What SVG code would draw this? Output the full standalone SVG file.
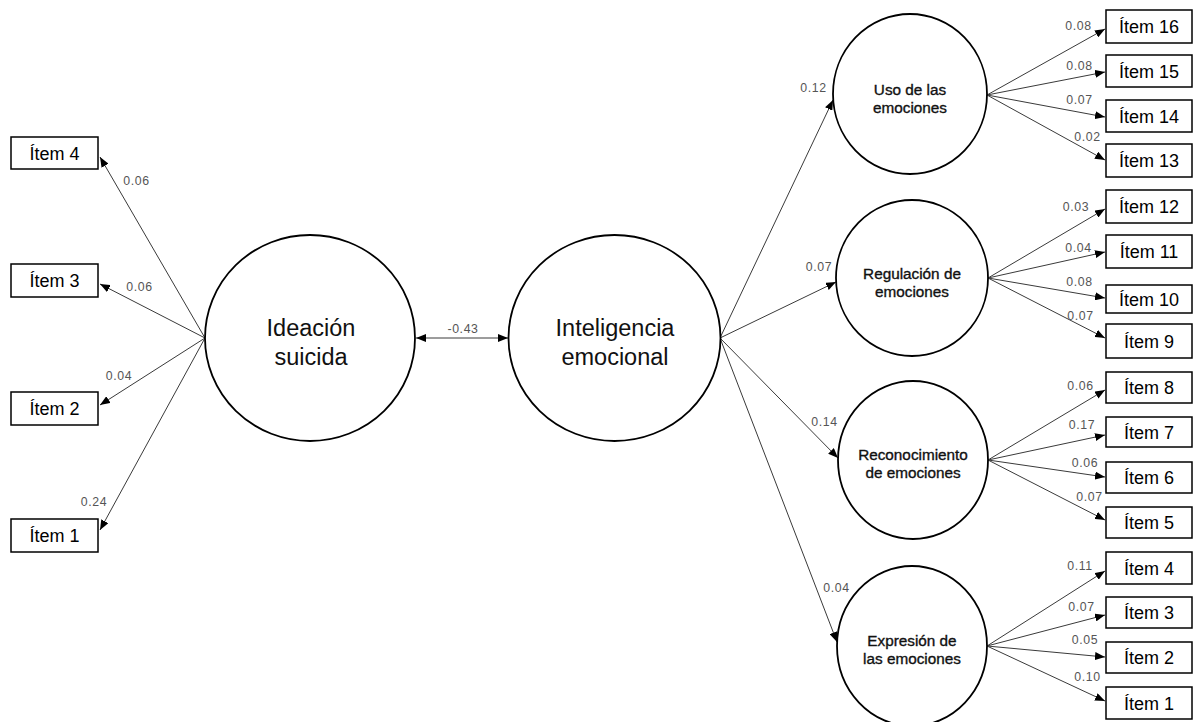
<svg xmlns="http://www.w3.org/2000/svg" width="1194" height="722" viewBox="0 0 1194 722">
<defs>
<marker id="ah" viewBox="0 0 10 8" refX="10" refY="4" markerWidth="10" markerHeight="8" markerUnits="userSpaceOnUse" orient="auto-start-reverse"><path d="M0,0 L10,4 L0,8 z" fill="#000"/></marker>
<style>
.c{fill:#fff;stroke:#000;stroke-width:1.8}
.b{fill:#fff;stroke:#000;stroke-width:1.5}
.bt{font-family:"Liberation Sans",Arial,sans-serif;font-size:18px;fill:#000;text-anchor:middle}
.big{font-family:"Liberation Sans",Arial,sans-serif;font-size:23.5px;fill:#111;text-anchor:middle}
.sm{font-family:"Liberation Sans",Arial,sans-serif;font-size:15.3px;fill:#111;stroke:#111;stroke-width:0.35;text-anchor:middle}
.lb{font-family:"Liberation Sans",Arial,sans-serif;font-size:12.3px;fill:#555;text-anchor:middle;letter-spacing:0.6px}
.e{stroke:#3a3a3a;stroke-width:1;fill:none;marker-end:url(#ah)}
</style>
</defs>
<rect width="1194" height="722" fill="#fff"/>
<g id="connectors">
<line class="e" x1="205" y1="338" x2="100" y2="157"/>
<line class="e" x1="205" y1="338" x2="100" y2="284"/>
<line class="e" x1="205" y1="338" x2="100" y2="405"/>
<line class="e" x1="205" y1="338" x2="100" y2="530"/>
<line class="e" x1="416" y1="338" x2="508" y2="338" style="marker-start:url(#ah)"/>
<line class="e" x1="720" y1="338" x2="833" y2="100"/>
<line class="e" x1="720" y1="338" x2="836" y2="282"/>
<line class="e" x1="720" y1="338" x2="838" y2="458"/>
<line class="e" x1="720" y1="338" x2="837" y2="642"/>
<line class="e" x1="987" y1="95" x2="1105" y2="29"/>
<line class="e" x1="987" y1="95" x2="1105" y2="72"/>
<line class="e" x1="987" y1="95" x2="1105" y2="117"/>
<line class="e" x1="987" y1="95" x2="1105" y2="160"/>
<line class="e" x1="988" y1="278" x2="1105" y2="209"/>
<line class="e" x1="988" y1="278" x2="1105" y2="252"/>
<line class="e" x1="988" y1="278" x2="1105" y2="298"/>
<line class="e" x1="988" y1="278" x2="1105" y2="338"/>
<line class="e" x1="988" y1="460" x2="1105" y2="390"/>
<line class="e" x1="988" y1="460" x2="1105" y2="435"/>
<line class="e" x1="988" y1="460" x2="1105" y2="477"/>
<line class="e" x1="988" y1="460" x2="1105" y2="520"/>
<line class="e" x1="987" y1="646" x2="1105" y2="571"/>
<line class="e" x1="987" y1="646" x2="1105" y2="615"/>
<line class="e" x1="987" y1="646" x2="1105" y2="657"/>
<line class="e" x1="987" y1="646" x2="1105" y2="701"/>
<g id="labels">
<text class="lb" x="136.5" y="185.3">0.06</text>
<text class="lb" x="139.5" y="291.3">0.06</text>
<text class="lb" x="119" y="380.3">0.04</text>
<text class="lb" x="94" y="506.3">0.24</text>
<text class="lb" x="463" y="332.5">-0.43</text>
<text class="lb" x="813.5" y="92.3">0.12</text>
<text class="lb" x="819" y="271.3">0.07</text>
<text class="lb" x="824.5" y="426.3">0.14</text>
<text class="lb" x="836.5" y="592.3">0.04</text>
<text class="lb" x="1078.5" y="30.3">0.08</text>
<text class="lb" x="1079.5" y="70.3">0.08</text>
<text class="lb" x="1079.5" y="104.3">0.07</text>
<text class="lb" x="1087.5" y="141.3">0.02</text>
<text class="lb" x="1076" y="211.3">0.03</text>
<text class="lb" x="1078.5" y="252.3">0.04</text>
<text class="lb" x="1079.5" y="286.3">0.08</text>
<text class="lb" x="1080.5" y="320.3">0.07</text>
<text class="lb" x="1080.5" y="390.3">0.06</text>
<text class="lb" x="1082" y="429.3">0.17</text>
<text class="lb" x="1085" y="467.3">0.06</text>
<text class="lb" x="1089.5" y="501.3">0.07</text>
<text class="lb" x="1080" y="570.3">0.11</text>
<text class="lb" x="1081.5" y="611.3">0.07</text>
<text class="lb" x="1085" y="644.3">0.05</text>
<text class="lb" x="1087.5" y="681.3">0.10</text>
</g>
</g>
<g id="ideacion"><ellipse class="c" cx="310" cy="338" rx="105" ry="103"/><text class="big" x="311" y="336">Ideación</text><text class="big" x="311" y="365">suicida</text></g>
<g id="inteligencia"><ellipse class="c" cx="614.5" cy="338" rx="106" ry="103"/><text class="big" x="615" y="336">Inteligencia</text><text class="big" x="615" y="365">emocional</text></g>
<g id="uso"><ellipse class="c" cx="910" cy="94" rx="77" ry="80"/><text class="sm" x="910" y="95">Uso de las</text><text class="sm" x="910" y="112.5">emociones</text></g>
<g id="regulacion"><ellipse class="c" cx="912" cy="278" rx="76" ry="78"/><text class="sm" x="912" y="279">Regulación de</text><text class="sm" x="912" y="297">emociones</text></g>
<g id="reconocimiento"><ellipse class="c" cx="913" cy="460" rx="75" ry="79"/><text class="sm" x="913" y="460">Reconocimiento</text><text class="sm" x="913" y="478">de emociones</text></g>
<g id="expresion"><ellipse class="c" cx="912" cy="646" rx="75" ry="80"/><text class="sm" x="912" y="646">Expresión de</text><text class="sm" x="912" y="663.5">las emociones</text></g>
<g id="l4"><rect class="b" x="11" y="137" width="87" height="32"/><text class="bt" x="54.5" y="159.5">Ítem 4</text></g>
<g id="l3"><rect class="b" x="11" y="264" width="87" height="33"/><text class="bt" x="54.5" y="287">Ítem 3</text></g>
<g id="l2"><rect class="b" x="11" y="392" width="87" height="33"/><text class="bt" x="54.5" y="415">Ítem 2</text></g>
<g id="l1"><rect class="b" x="11" y="519" width="87" height="33"/><text class="bt" x="54.5" y="542">Ítem 1</text></g>
<g id="r16"><rect class="b" x="1106" y="10" width="86" height="33"/><text class="bt" x="1149" y="33">Ítem 16</text></g>
<g id="r15"><rect class="b" x="1106" y="55" width="86" height="32"/><text class="bt" x="1149" y="77.5">Ítem 15</text></g>
<g id="r14"><rect class="b" x="1106" y="100" width="86" height="32"/><text class="bt" x="1149" y="122.5">Ítem 14</text></g>
<g id="r13"><rect class="b" x="1106" y="144" width="86" height="33"/><text class="bt" x="1149" y="167">Ítem 13</text></g>
<g id="r12"><rect class="b" x="1106" y="190" width="86" height="33"/><text class="bt" x="1149" y="213">Ítem 12</text></g>
<g id="r11"><rect class="b" x="1106" y="235" width="86" height="33"/><text class="bt" x="1149" y="258">Ítem 11</text></g>
<g id="r10"><rect class="b" x="1106" y="285" width="86" height="28"/><text class="bt" x="1149" y="305.5">Ítem 10</text></g>
<g id="r9"><rect class="b" x="1106" y="324" width="86" height="34"/><text class="bt" x="1149" y="347.5">Ítem 9</text></g>
<g id="r8"><rect class="b" x="1106" y="372" width="86" height="31"/><text class="bt" x="1149" y="394">Ítem 8</text></g>
<g id="r7"><rect class="b" x="1106" y="417" width="86" height="30"/><text class="bt" x="1149" y="438.5">Ítem 7</text></g>
<g id="r6"><rect class="b" x="1106" y="462" width="86" height="31"/><text class="bt" x="1149" y="484">Ítem 6</text></g>
<g id="r5"><rect class="b" x="1106" y="507" width="86" height="31"/><text class="bt" x="1149" y="529">Ítem 5</text></g>
<g id="r4"><rect class="b" x="1106" y="552" width="86" height="32"/><text class="bt" x="1149" y="574.5">Ítem 4</text></g>
<g id="r3"><rect class="b" x="1106" y="597" width="86" height="31"/><text class="bt" x="1149" y="619">Ítem 3</text></g>
<g id="r2"><rect class="b" x="1106" y="642" width="86" height="31"/><text class="bt" x="1149" y="664">Ítem 2</text></g>
<g id="r1"><rect class="b" x="1106" y="687" width="86" height="32"/><text class="bt" x="1149" y="709.5">Ítem 1</text></g>
</svg>
